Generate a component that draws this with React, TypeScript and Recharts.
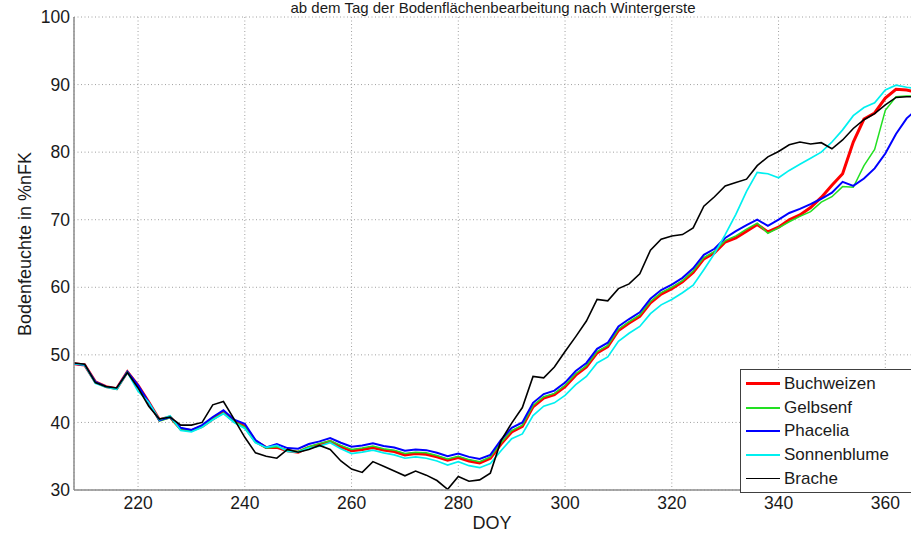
import React from 'react';
import { LineChart, Line, XAxis, YAxis, CartesianGrid, Customized } from 'recharts';

// DOY sampled every 2 days
const doy = [
  208, 210, 212, 214, 216, 218, 220, 222, 224, 226, 228, 230, 232, 234, 236, 238, 240, 242, 244,
  246, 248, 250, 252, 254, 256, 258, 260, 262, 264, 266, 268, 270, 272, 274, 276, 278, 280, 282, 284, 286,
  288, 290, 292, 294, 296, 298, 300, 302, 304, 306, 308, 310, 312, 314, 316, 318, 320, 322, 324, 326, 328, 330,
  332, 334, 336, 338, 340, 342, 344, 346, 348, 350, 352, 354, 356, 358, 360, 362, 364, 365,
];

const buchweizen = [
  48.7, 48.5, 46.0, 45.3, 45.0, 47.5, 45.5, 43.0, 40.4, 40.8, 39.0, 38.8, 39.4, 40.5, 41.5, 40.2, 39.4, 37.2, 36.3,
  36.3, 35.8, 35.6, 36.3, 36.7, 37.2, 36.4, 35.8, 36.0, 36.3, 35.9, 35.7, 35.2, 35.4, 35.3, 34.9, 34.4, 34.8, 34.3, 34.0, 34.7,
  36.8, 38.6, 39.4, 42.3, 43.6, 44.1, 45.3, 47.0, 48.2, 50.3, 51.2, 53.6, 54.7, 55.7, 57.7, 59.0, 59.8, 60.8, 62.2, 64.2, 65.1, 66.7,
  67.3, 68.3, 69.3, 68.2, 68.9, 70.0, 70.7, 71.8, 73.3, 75.1, 76.8, 81.5, 84.9, 85.8, 88.0, 89.3, 89.2, 89.0,
];

const gelbsenf = [
  48.7, 48.5, 46.0, 45.3, 44.9, 47.5, 45.4, 42.9, 40.2, 40.7, 38.9, 38.8, 39.4, 40.5, 41.4, 40.1, 39.3, 37.1, 36.2,
  36.4, 35.9, 35.7, 36.4, 36.9, 37.3, 36.6, 36.0, 36.2, 36.5, 36.1, 35.9, 35.4, 35.6, 35.5, 35.1, 34.6, 35.0, 34.5, 34.2, 34.9,
  37.0, 38.8, 39.6, 42.5, 43.8, 44.3, 45.5, 47.2, 48.4, 50.5, 51.4, 53.8, 54.9, 55.9, 57.9, 59.2, 60.0, 61.0, 62.4, 64.4, 65.3, 66.9,
  67.6, 68.6, 69.5, 68.0, 68.8, 69.7, 70.5, 71.2, 72.6, 73.4, 74.9, 74.8, 78.0, 80.4, 86.2, 88.2, 88.3, 88.3,
];

const phacelia = [
  48.7, 48.5, 46.0, 45.3, 45.0, 47.5, 45.5, 43.0, 40.3, 40.8, 39.2, 38.9, 39.6, 40.8, 41.8, 40.4, 39.8, 37.4, 36.3,
  36.8, 36.2, 36.1, 36.8, 37.2, 37.7, 37.0, 36.4, 36.6, 36.9, 36.5, 36.3, 35.8, 36.0, 35.9, 35.5, 35.0, 35.4, 34.9, 34.6, 35.2,
  37.4, 39.2, 40.0, 42.9, 44.2, 44.7, 45.9, 47.6, 48.8, 50.9, 51.8, 54.2, 55.3, 56.3, 58.3, 59.6, 60.4, 61.4, 62.8, 64.8, 65.7, 67.3,
  68.3, 69.2, 70.0, 69.1, 70.0, 71.0, 71.6, 72.3, 73.1, 74.0, 75.6, 75.0, 76.1, 77.6, 79.8, 82.7, 85.0, 85.7,
];

const sonnenblume = [
  48.7, 48.5, 45.8, 45.2, 44.9, 47.4, 44.6, 43.0, 40.4, 41.0, 38.8, 38.6, 39.3, 40.4, 41.3, 40.0, 39.1, 37.0, 36.3,
  36.6, 35.7, 35.6, 36.2, 36.5, 37.0, 36.1, 35.4, 35.6, 35.9, 35.5, 35.2, 34.7, 34.9, 34.7, 34.3, 33.7, 34.2, 33.6, 33.3, 33.9,
  35.8, 37.6, 38.3, 41.0, 42.4, 42.9, 44.0, 45.6, 46.8, 48.8, 49.7, 52.0, 53.2, 54.2, 56.1, 57.4, 58.2, 59.2, 60.3, 62.6, 65.0, 67.8,
  70.8, 74.2, 77.0, 76.8, 76.2, 77.3, 78.2, 79.1, 80.0, 81.5, 83.3, 85.4, 86.6, 87.3, 89.2, 89.9, 89.6, 89.5,
];

const brache = [
  48.8, 48.6, 45.9, 45.3, 45.1, 47.4, 45.1, 42.4, 40.5, 40.8, 39.6, 39.6, 40.0, 42.6, 43.1, 40.5, 37.8, 35.5, 35.0,
  34.7, 36.0, 35.6, 36.0, 36.6, 36.0, 34.3, 33.1, 32.6, 34.2, 33.5, 32.8, 32.1, 32.8, 32.2, 31.4, 30.1, 32.0, 31.3, 31.5, 32.5,
  37.3, 39.9, 42.2, 46.8, 46.6, 48.2, 50.5, 52.7, 55.0, 58.2, 58.0, 59.8, 60.5, 62.0, 65.5, 67.1, 67.6, 67.8, 68.8, 72.0, 73.4, 75.0,
  75.5, 76.0, 78.0, 79.3, 80.1, 81.1, 81.5, 81.2, 81.4, 80.5, 81.8, 83.5, 84.8, 85.7, 87.0, 88.1, 88.2, 88.2,
];

const xTicks = [220, 240, 260, 280, 300, 320, 340, 360];
const yTicks = [30, 40, 50, 60, 70, 80, 90, 100];

const series = [
  { name: 'Buchweizen', values: buchweizen, color: '#ff0000', width: 3, legendWidth: 3 },
  { name: 'Gelbsenf', values: gelbsenf, color: '#22e022', width: 1.5, legendWidth: 2 },
  { name: 'Phacelia', values: phacelia, color: '#0000ff', width: 2, legendWidth: 2 },
  { name: 'Sonnenblume', values: sonnenblume, color: '#00f0f0', width: 1.7, legendWidth: 2 },
  { name: 'Brache', values: brache, color: '#000000', width: 1.6, legendWidth: 1.5 },
];

const data = doy.map((d, i) => {
  const row: Record<string, number> = { doy: d };
  series.forEach((s) => {
    row[s.name] = s.values[i];
  });
  return row;
});

const FONT = '"Liberation Sans", Arial, Helvetica, sans-serif';

const Texts = () => (
  <g fontFamily={FONT} fill="#1a1a1a">
    <text x={493} y={13} textAnchor="middle" fontSize={15}>
      ab dem Tag der Bodenflächenbearbeitung nach Wintergerste
    </text>
    <text x={492} y={529} textAnchor="middle" fontSize={18}>
      DOY
    </text>
    <text transform="translate(31,244) rotate(-90)" textAnchor="middle" fontSize={18}>
      Bodenfeuchte in %nFK
    </text>
  </g>
);

export default function App() {
  return (
    <div
      style={{
        position: 'absolute',
        left: 0,
        top: 0,
        width: 911,
        height: 533,
        overflow: 'hidden',
        background: '#fff',
      }}
    >
      <LineChart width={920} height={533} data={data} margin={{ top: 17, right: 8, bottom: 0, left: 0 }}>
        <CartesianGrid stroke="#a0a0a0" strokeDasharray="1 2.5" />
        <XAxis
          type="number"
          dataKey="doy"
          domain={[208, 365]}
          ticks={xTicks}
          allowDataOverflow
          height={43}
          tickLine={false}
          tickSize={0}
          tickMargin={7}
          axisLine={{ stroke: '#8c8c8c', strokeWidth: 1.5 }}
          tick={{ fill: '#1a1a1a', fontSize: 17.5, fontFamily: FONT }}
        />
        <YAxis
          type="number"
          domain={[30, 100]}
          ticks={yTicks}
          allowDataOverflow
          width={74}
          tickLine={false}
          tickSize={0}
          tickMargin={4}
          axisLine={{ stroke: '#8c8c8c', strokeWidth: 1.5 }}
          tick={{ fill: '#1a1a1a', fontSize: 17.5, fontFamily: FONT }}
        />
        {series.map((s) => (
          <Line
            key={s.name}
            type="linear"
            dataKey={s.name}
            stroke={s.color}
            strokeWidth={s.width}
            dot={false}
            activeDot={false}
            isAnimationActive={false}
          />
        ))}
        <Customized component={Texts} />
      </LineChart>
      <div
        style={{
          position: 'absolute',
          left: 740,
          top: 369,
          width: 190,
          height: 120,
          border: '1px solid #404040',
          background: '#fff',
          boxSizing: 'content-box',
          paddingTop: 2,
          fontFamily: FONT,
          fontSize: 17,
          color: '#1a1a1a',
        }}
      >
        {series.map((s) => (
          <div key={s.name} style={{ display: 'flex', alignItems: 'center', height: 23.7 }}>
            <div style={{ width: 34, height: s.legendWidth, background: s.color, marginLeft: 5 }} />
            <span style={{ marginLeft: 4, lineHeight: '20px' }}>{s.name}</span>
          </div>
        ))}
      </div>
    </div>
  );
}
